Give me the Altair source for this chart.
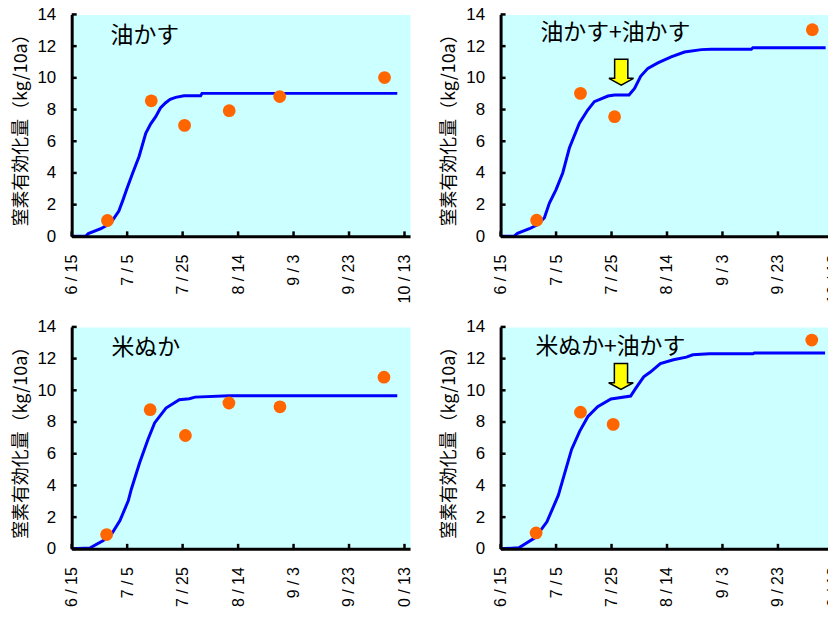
import altair as alt
import pandas as pd

# ---- axis ticks ----
X_TICK_DAYS = [0, 20, 40, 60, 80, 100, 120]          # days after 6/15
X_TICK_LABELS = ["6/15", "7/5", "7/25", "8/14", "9/3", "9/23", "10/13"]
Y_TICKS = [0, 2, 4, 6, 8, 10, 12, 14]
Y_TITLE = "窒素有効化量（kg/10a）"

# ---- panel titles ----
TITLES = ["油かす", "油かす+油かす", "米ぬか", "米ぬか+油かす"]

# ---- observed points (days after 6/15, kg/10a) ----
obs_days_1 = [12.9, 28.7, 40.7, 56.8, 75.0, 112.8]
obs_vals_1 = [1.0, 8.55, 7.0, 7.93, 8.82, 10.02]
obs_days_2 = [13.0, 28.8, 41.1, 112.4]
obs_vals_2 = [1.02, 9.02, 7.55, 13.04]
obs_days_3 = [12.6, 28.3, 41.0, 56.7, 75.1, 112.6]
obs_vals_3 = [0.9, 8.78, 7.15, 9.2, 8.96, 10.83]
obs_days_4 = [12.8, 28.8, 40.6, 112.2]
obs_vals_4 = [1.0, 8.62, 7.85, 13.17]

# ---- simulated curves ----
cur_days_1 = [0, 5, 6, 10.5, 14, 17, 18.5, 20, 22, 24.3, 26.7, 28.5, 30.3, 32, 33.9, 35.5, 37.5, 40.5, 46.5, 47, 117.4]
cur_vals_1 = [0, 0, 0.17, 0.48, 0.82, 1.6, 2.3, 3.05, 4.0, 5.04, 6.5, 7.1, 7.55, 8.1, 8.43, 8.65, 8.77, 8.87, 8.87, 9.02, 9.02]
cur_days_2 = [0, 4.8, 6.1, 10.4, 13.4, 15.8, 17.6, 20, 22.4, 24.8, 28.4, 31.4, 33.8, 38.7, 41.1, 46.3, 48.3, 50.5, 53.1, 56.7, 61.5, 66.3, 72.4, 76, 90.4, 91, 117.2]
cur_vals_2 = [0, 0, 0.19, 0.48, 0.75, 1.17, 2.1, 2.95, 4.0, 5.57, 7.14, 7.97, 8.5, 8.85, 8.92, 8.92, 9.33, 10.1, 10.6, 10.94, 11.32, 11.63, 11.78, 11.8, 11.8, 11.9, 11.9]
cur_days_3 = [0, 6.7, 11.4, 14.4, 17.4, 20.4, 21.5, 24.5, 27.5, 29.9, 34, 38.8, 42.4, 44.5, 56.7, 117.4]
cur_vals_3 = [0, 0.06, 0.52, 0.94, 1.78, 3.03, 3.76, 5.43, 6.9, 7.94, 8.88, 9.4, 9.47, 9.57, 9.65, 9.65]
cur_days_4 = [0, 6.6, 12.5, 16.7, 20.8, 23.2, 25.6, 28.5, 31.5, 35, 39.8, 42.2, 46.9, 48.7, 51.6, 54, 57.6, 62.3, 67, 69.3, 75.3, 91, 91.5, 117]
cur_vals_4 = [0, 0.07, 0.71, 1.7, 3.37, 4.82, 6.27, 7.41, 8.35, 8.97, 9.45, 9.52, 9.64, 10.12, 10.85, 11.15, 11.68, 11.93, 12.09, 12.24, 12.3, 12.3, 12.35, 12.35]

# ---- second-application arrows (day, value at arrow centre) ----
arrow_2 = ([43.5], [10.36])
arrow_4 = ([43.4], [10.87])

ARROW_PATH = "M -0.51 -1 L 0.51 -1 L 0.51 0.48 L 0.95 0.48 L 0 1 L -0.95 0.48 L -0.51 0.48 Z"

W, H = 340, 223
TICK_LEN = 5

shown = [s.replace("/", " / ") for s in X_TICK_LABELS]
label_expr = "[" + ",".join("'%s'" % s for s in shown) + "][indexof([" + \
    ",".join(str(d) for d in X_TICK_DAYS) + "], datum.value)]"

x_axis = alt.Axis(values=X_TICK_DAYS, labelExpr=label_expr, labelAngle=270, title=None,
                  labelFont="Liberation Sans", labelFontSize=16, labelColor="black",
                  labelPadding=18, labelFlush=False, labelOverlap=False, labelBound=False,
                  ticks=False, domain=True, domainColor="black", domainWidth=3,
                  domainOpacity=1, grid=False, zindex=2)
y_axis = alt.Axis(values=Y_TICKS, title=Y_TITLE, titleFont="Noto Sans CJK JP", titleFontSize=18,
                  titleFontWeight="normal", titleColor="black", titlePadding=7,
                  labelFont="Liberation Sans", labelFontSize=17, labelColor="black",
                  labelPadding=16, labelFlush=False, labelOverlap=False,
                  ticks=False, domain=True, domainColor="black", domainWidth=3,
                  domainOpacity=1, grid=False, zindex=2)

X = alt.X("day:Q", scale=alt.Scale(domain=[0, 122], nice=False, zero=False), axis=x_axis)
Y = alt.Y("val:Q", scale=alt.Scale(domain=[0, 14], nice=False), axis=y_axis)


def panel(title, od, ov, cd, cv, arrow, lx, ly):
    cur = pd.DataFrame({"day": cd, "val": cv})
    obs = pd.DataFrame({"day": od, "val": ov})
    line = alt.Chart(cur).mark_line(color="#0000FF", strokeWidth=3).encode(x=X, y=Y)
    pts = alt.Chart(obs).mark_circle(color="#FF6600", size=165, opacity=1).encode(x=X, y=Y)
    # inward tick marks
    xt = alt.Chart(pd.DataFrame({"day": X_TICK_DAYS})).mark_rule(
        color="black", strokeWidth=2.5).encode(x=X, y=alt.value(H - TICK_LEN), y2=alt.value(H))
    yt = alt.Chart(pd.DataFrame({"val": Y_TICKS})).mark_rule(
        color="black", strokeWidth=2.5).encode(y=Y, x=alt.value(0), x2=alt.value(TICK_LEN))
    txt = alt.Chart(pd.DataFrame({"t": [title]})).mark_text(
        align="left", baseline="middle", font="Noto Sans CJK JP", fontSize=23, color="black"
    ).encode(x=alt.value(lx), y=alt.value(ly), text="t:N")
    layers = [line, pts, xt, yt, txt]
    if arrow is not None:
        adf = pd.DataFrame({"day": arrow[0], "val": arrow[1]})
        layers.append(alt.Chart(adf).mark_point(
            shape=ARROW_PATH, size=676, filled=True, fill="#FFFF00", stroke="black",
            strokeWidth=1.5, opacity=1).encode(x=X, y=Y))
    return alt.layer(*layers).properties(width=W, height=H)


p1 = panel(TITLES[0], obs_days_1, obs_vals_1, cur_days_1, cur_vals_1, None, 39, 22)
p2 = panel(TITLES[1], obs_days_2, obs_vals_2, cur_days_2, cur_vals_2, arrow_2, 40, 19)
p3 = panel(TITLES[2], obs_days_3, obs_vals_3, cur_days_3, cur_vals_3, None, 40, 21)
p4 = panel(TITLES[3], obs_days_4, obs_vals_4, cur_days_4, cur_vals_4, arrow_4, 35, 20)

chart = alt.concat(p1, p2, p3, p4, columns=2, spacing=91, bounds="flush").properties(
    padding={"left": 3, "top": -5, "right": -14, "bottom": -11}
).configure_view(fill="#CCFFFF", stroke="transparent")

chart.save("out.html", embed_options={"renderer": "svg", "actions": False})
